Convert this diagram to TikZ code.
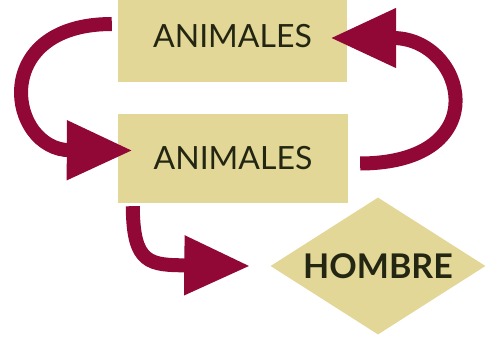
\documentclass[tikz,border=0pt]{standalone}
\usepackage{fontspec}
\setmainfont{Lato}
\usepackage{tikz}
\definecolor{weinrot}{RGB}{145,8,55}
\definecolor{sand}{RGB}{226,215,150}
\definecolor{schrift}{RGB}{35,38,18}
\usetikzlibrary{shapes.geometric, arrows.meta}

\begin{document}
\begin{tikzpicture}[x=1pt, y=-1pt,
			kasten/.style={fill=sand, draw=none, text=schrift, inner sep=0pt},
			pfeil/.style={draw=weinrot, line width=14pt, -{Triangle[length=66pt, width=56pt]}},
			font=\fontsize{32}{38}\selectfont]
			%Bildbereich
			\useasboundingbox (0,0) rectangle (485,337);
			% Kaesten zeichnen
			\node[kasten, minimum width=229pt, minimum height=92pt] (oben) at (232.5,36) {ANIMALES};
			\node[kasten, minimum width=230pt, minimum height=89pt] (mitte) at (233,158.5) {ANIMALES};
			\node[kasten, diamond, aspect=1.57, minimum width=215pt, minimum height=137pt, font=\fontsize{34}{38}\selectfont\bfseries] (mensch) at (378,266) {HOMBRE};
			% Pfeile zeichnen
			\draw[pfeil] ([xshift=-6pt,yshift=12pt]oben.west) .. controls (-12,24) and (8,150) .. ([xshift=15pt,yshift=8pt]mitte.west);
			\draw[pfeil] ([xshift=12pt,yshift=-5pt]mitte.east) .. controls (498,163) and (466,38) .. ([xshift=-17pt,yshift=-2pt]oben.east);
			\draw[pfeil] ([xshift=15pt,yshift=-3pt]mitte.south west) .. controls (133,265) and (150,265) .. ([xshift=-20pt]mensch.west);
		\end{tikzpicture}
\end{document}
